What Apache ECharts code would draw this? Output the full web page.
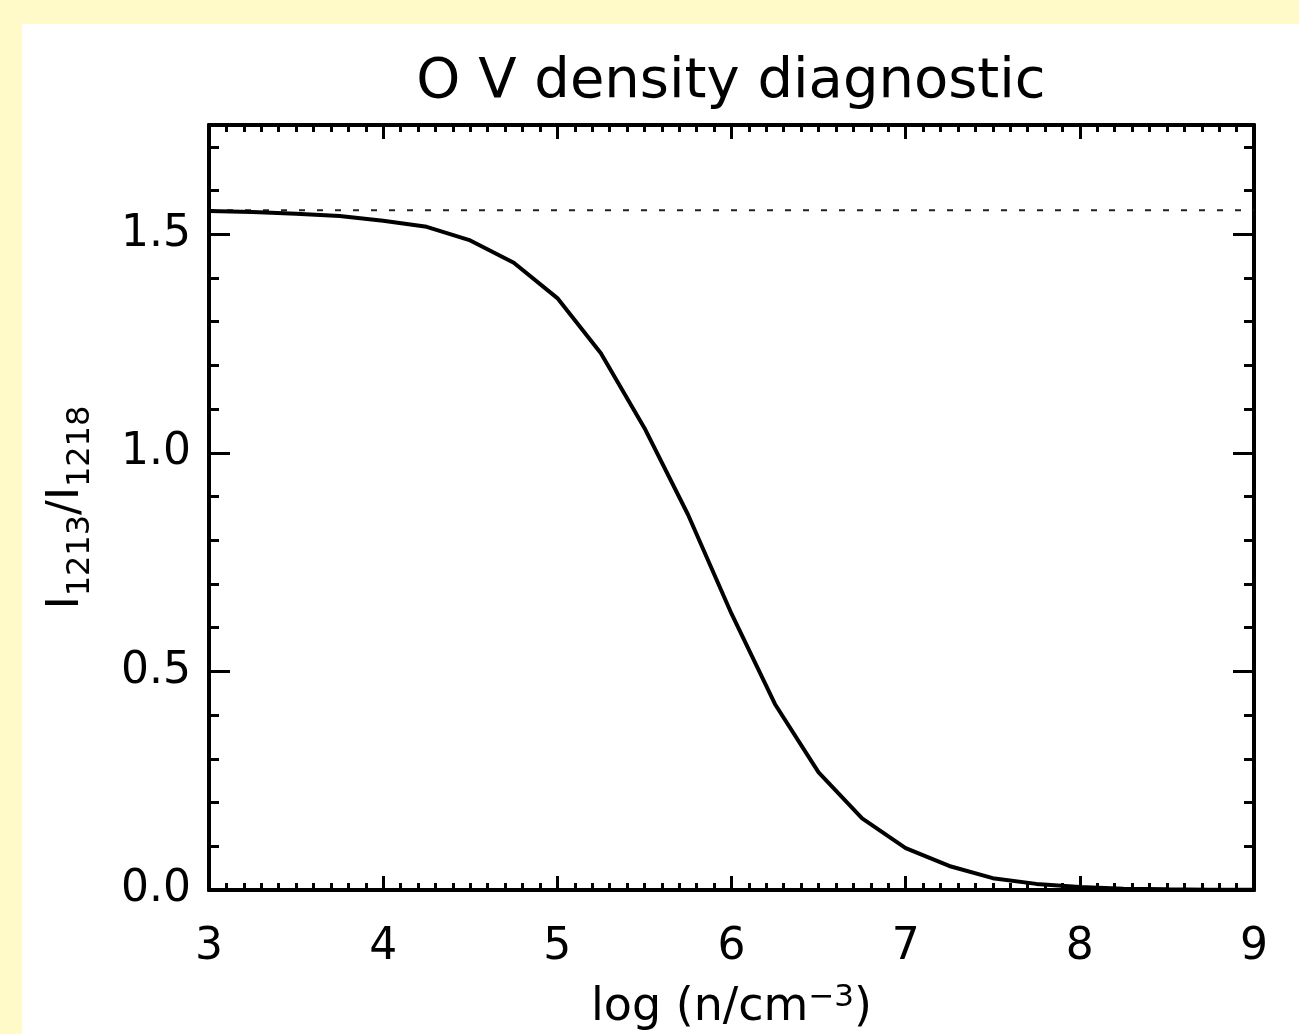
<!DOCTYPE html>
<html>
<head>
<meta charset="utf-8">
<script src="https://cdn.jsdelivr.net/npm/echarts@6/dist/echarts.min.js"></script>
<style>
  html, body { margin: 0; padding: 0; width: 1299px; height: 1034px; overflow: hidden; background: #fffac8; }
  #chart { position: absolute; left: 22px; top: 24px; width: 1277px; height: 1010px; background: #fff; }
</style>
</head>
<body>
<div id="chart"></div>
<script>
// log electron density (x) and I1213/I1218 line ratio (y)
const logDensity = [3, 3.25, 3.5, 3.75, 4, 4.25, 4.5, 4.75, 5, 5.25, 5.5, 5.75,
  6, 6.25, 6.5, 6.75, 7, 7.25, 7.5, 7.75, 8, 8.25, 8.5, 8.75, 9];
const ratio = [1.553, 1.551, 1.547, 1.542, 1.531, 1.517, 1.486, 1.435, 1.354, 1.228, 1.057, 0.859,
  0.632, 0.425, 0.269, 0.164, 0.096, 0.055, 0.027, 0.014, 0.007, 0.003, 0.0015, 0.0007, 0.0003];
// low-density limit drawn as dotted line
const limitX = [3, 9];
const limitRatio = 1.555;

const FONT = '"DejaVu Sans", "Liberation Sans", sans-serif';
const BLACK = '#000';

const chart = echarts.init(document.getElementById('chart'), null, { renderer: 'canvas' });

function xAxisCfg(pos) {
  const bottom = pos === 'bottom';
  return {
    type: 'value',
    position: pos,
    min: 3,
    max: 9,
    interval: 1,
    axisLine: { show: true, onZero: false, lineStyle: { color: BLACK, width: 4 } },
    axisTick: { show: true, inside: true, length: 14, lineStyle: { color: BLACK, width: 3 } },
    minorTick: { show: true, splitNumber: 10, length: 7, lineStyle: { color: BLACK, width: 3 } },
    splitLine: { show: false },
    axisLabel: { show: bottom, margin: 36, fontSize: 44, fontFamily: FONT, color: BLACK },
    name: bottom ? '{t|log (n/cm}{sup|\u22123}{t|)}' : '',
    nameLocation: 'middle',
    nameGap: 92,
    nameTextStyle: {
      rich: {
        t: { fontSize: 46, fontFamily: FONT, color: BLACK, lineHeight: 52, verticalAlign: 'middle' },
        sup: { fontSize: 31, fontFamily: FONT, color: BLACK, lineHeight: 26, verticalAlign: 'top' }
      }
    }
  };
}

function yAxisCfg(pos, major) {
  const showLabel = major && pos === 'left';
  return {
    type: 'value',
    position: pos,
    min: 0,
    max: 1.75,
    interval: major ? 0.5 : 0.1,
    axisLine: { show: true, onZero: false, lineStyle: { color: BLACK, width: 4 } },
    axisTick: { show: true, inside: true, length: major ? 21 : 10, lineStyle: { color: BLACK, width: 3 } },
    splitLine: { show: false },
    axisLabel: {
      show: showLabel, margin: 18, fontSize: 44, fontFamily: FONT, color: BLACK,
      showMaxLabel: false,
      formatter: (v) => v.toFixed(1)
    },
    name: showLabel ? '{b|I}{s|1213}{b|/I}{s|1218}' : '',
    nameLocation: 'middle',
    nameGap: 112,
    nameTextStyle: {
      rich: {
        b: { fontSize: 44, fontFamily: FONT, color: BLACK, lineHeight: 60, verticalAlign: 'middle' },
        s: { fontSize: 32, fontFamily: FONT, color: BLACK, lineHeight: 26, verticalAlign: 'bottom' }
      }
    }
  };
}

const option = {
  animation: false,
  backgroundColor: 'transparent',
  grid: { left: 187, right: 45, top: 101, bottom: 144, containLabel: false, outerBoundsMode: 'none' },
  graphic: [{
    type: 'text',
    x: 709,
    y: 30,
    style: {
      text: 'O V density diagnostic',
      fontSize: 56,
      fontFamily: FONT,
      fill: BLACK,
      align: 'center',
      verticalAlign: 'top'
    }
  }],
  xAxis: [xAxisCfg('bottom'), xAxisCfg('top')],
  yAxis: [yAxisCfg('left', true), yAxisCfg('left', false), yAxisCfg('right', true), yAxisCfg('right', false)],
  series: [
    {
      type: 'line',
      name: 'limit',
      data: limitX.map((x) => [x, limitRatio]),
      symbol: 'none',
      lineStyle: { color: '#222', width: 2, type: [6, 12] },
      z: 2
    },
    {
      type: 'line',
      name: 'ratio',
      data: logDensity.map((x, i) => [x, ratio[i]]),
      symbol: 'none',
      lineStyle: { color: BLACK, width: 4 },
      z: 3
    }
  ]
};

chart.setOption(option);
</script>
</body>
</html>
